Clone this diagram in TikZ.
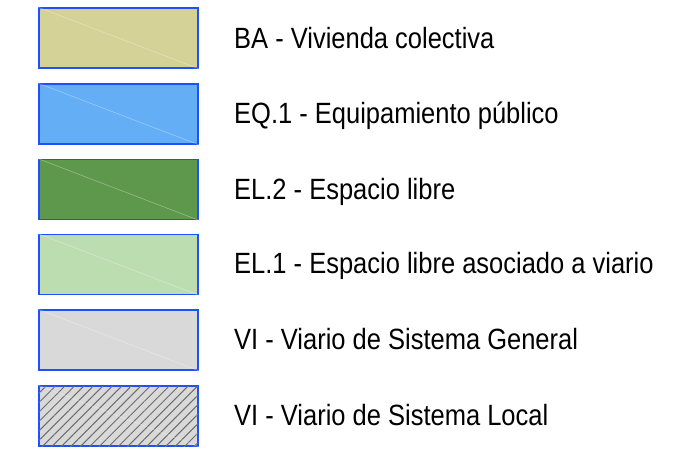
\documentclass[tikz,border=0pt]{standalone}
\usepackage{fontspec}
\setmainfont{Liberation Sans}[FakeStretch=0.87]
\usetikzlibrary{patterns.meta}

\definecolor{edgeblue}{RGB}{30,80,255}
\definecolor{colBA}{RGB}{213,210,152}
\definecolor{colEQ}{RGB}{100,174,245}
\definecolor{colELtwo}{RGB}{94,152,76}
\definecolor{colELone}{RGB}{188,221,176}
\definecolor{colVI}{RGB}{217,217,217}

\tikzset{
	legendbox/.style={draw=edgeblue,line width=1.5pt,minimum width=159pt,minimum height=60pt,inner sep=0pt},
	legendtext/.style={anchor=base west,inner sep=0pt,font=\fontsize{29.3}{34}\selectfont},
	seam/.style={white,opacity=0.35,line width=0.6pt}
}

\begin{document}
\begin{tikzpicture}[x=1pt,y=-1pt]
		\useasboundingbox (0,0) rectangle (674,451);
		
		\node[legendbox,fill=colBA] (ba) at (118.5,38) {};
		\draw[seam] (ba.north west) -- (ba.south east);
		\node[legendtext] (baText) at (234,48) {BA - Vivienda colectiva};
		
		\node[legendbox,fill=colEQ] (eq) at (118.5,114) {};
		\draw[seam] (eq.north west) -- (eq.south east);
		\node[legendtext] (eqText) at (234,123.5) {EQ.1 - Equipamiento público};
		
		\node[legendbox,fill=colELtwo] (eltwo) at (118.5,189.5) {};
		\draw[seam] (eltwo.north west) -- (eltwo.south east);
		\node[legendtext] (eltwoText) at (234,199) {EL.2 - Espacio libre};
		
		\node[legendbox,fill=colELone] (elone) at (118.5,264.5) {};
		\draw[seam] (elone.north west) -- (elone.south east);
		\node[legendtext] (eloneText) at (234,273.5) {EL.1 - Espacio libre asociado a viario};
		
		\node[legendbox,fill=colVI] (vig) at (118.5,340) {};
		\draw[seam] (vig.north west) -- (vig.south east);
		\node[legendtext] (vigText) at (234,349.5) {VI - Viario de Sistema General};
		
		\node[legendbox,fill=colVI,postaction={pattern={Lines[angle=45,distance=6.7pt,line width=1pt]},pattern color=gray!85!black}] (vil) at (118.5,416) {};
		\draw[seam] (vil.north west) -- (vil.south east);
		\node[legendtext] (vilText) at (234,425.5) {VI - Viario de Sistema Local};
	\end{tikzpicture}
\end{document}
